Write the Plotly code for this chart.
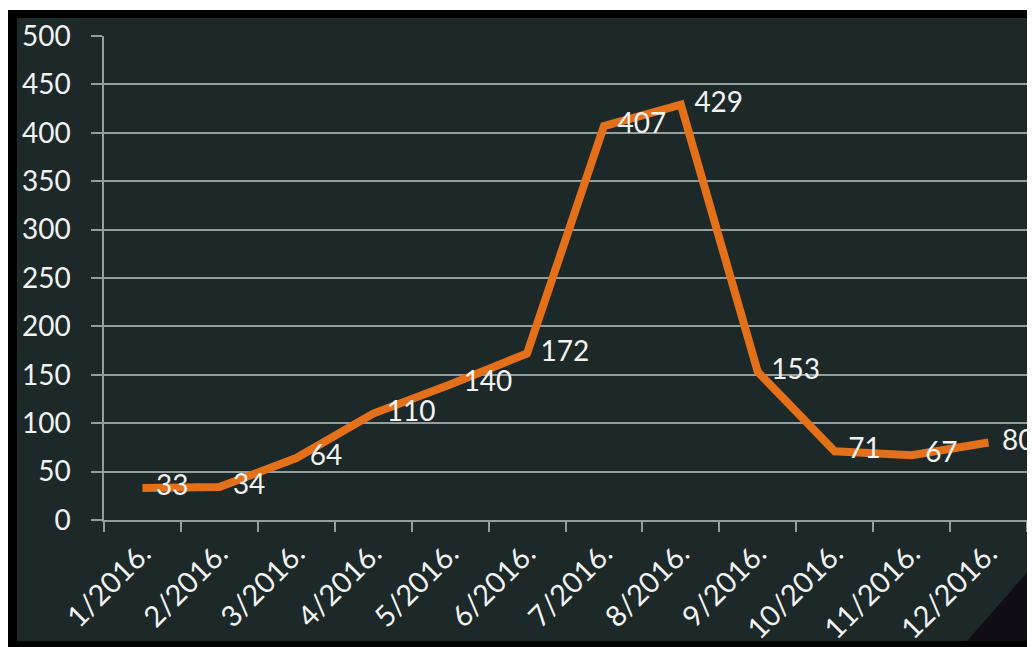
import plotly.graph_objects as go

months = ["1/2016.", "2/2016.", "3/2016.", "4/2016.", "5/2016.", "6/2016.",
          "7/2016.", "8/2016.", "9/2016.", "10/2016.", "11/2016.", "12/2016."]
values = [33, 34, 64, 110, 140, 172, 407, 429, 153, 71, 67, 80]
y_ticks = [0, 50, 100, 150, 200, 250, 300, 350, 400, 450, 500]

# the page body has an 8px margin, so the figure starts at page pixel (8, 8)
OFF = 8
W, H = 1035 - OFF, 647 - OFF
ML, MR, MT, MB = 104 - OFF, 8, 36 - OFF, 127
PW, PH = W - ML - MR, H - MT - MB

def px_x(p):  # page pixel -> paper
    return (p - OFF - ML) / PW

def px_y(p):
    return 1 - (p - OFF - MT) / PH

BOARD = "rgb(29,41,41)"
GRID = "rgba(170,178,178,0.85)"
TXT = "#f2f2f2"
FONT = "Lato"

fig = go.Figure()
fig.add_trace(go.Scatter(
    x=months, y=values, mode="lines+markers+text",
    line=dict(color="#E5701A", width=8),
    marker=dict(size=20, color="rgba(0,0,0,0)"),
    text=[str(v) for v in values], textposition="middle right",
    textfont=dict(family=FONT, size=28, color=TXT),
    cliponaxis=False, showlegend=False, hoverinfo="skip",
))

shapes = [
    dict(type="rect", xref="paper", yref="paper", layer="below",
         x0=px_x(8), x1=px_x(1045), y0=px_y(660), y1=px_y(10),
         fillcolor="black", line=dict(width=0)),
    dict(type="rect", xref="paper", yref="paper", layer="below",
         x0=px_x(17), x1=px_x(1045), y0=px_y(641), y1=px_y(18),
         fillcolor=BOARD, line=dict(width=0)),
    dict(type="path", xref="paper", yref="paper", layer="below",
         path=f"M {px_x(967)} {px_y(641)} L {px_x(1045)} {px_y(552)} L {px_x(1045)} {px_y(641)} Z",
         fillcolor="rgb(18,12,20)", line=dict(width=0)),
]

fig.update_layout(
    width=W, height=H,
    margin=dict(l=ML, r=MR, t=MT, b=MB, autoexpand=False),
    paper_bgcolor="white", plot_bgcolor="rgba(0,0,0,0)",
    shapes=shapes,
    font=dict(family=FONT, color=TXT),
)
fig.update_xaxes(
    type="category", tickangle=-45, tickson="boundaries", automargin=False,
    ticks="outside", ticklen=10, tickcolor=GRID, tickwidth=1.5,
    showline=True, linecolor=GRID, linewidth=1.5,
    showgrid=False, tickfont=dict(family=FONT, size=29, color=TXT),
    ticklabelstandoff=3,
    range=[-0.5, 11.5],
)
fig.update_yaxes(
    range=[0, 500], tickvals=y_ticks, showgrid=True, gridcolor=GRID, gridwidth=1.5,
    automargin=False,
    ticks="outside", ticklen=11, tickcolor=GRID, tickwidth=1.5,
    showline=True, linecolor=GRID, linewidth=1.5, zeroline=False,
    tickfont=dict(family=FONT, size=28, color=TXT), ticklabelstandoff=15,
)

fig.write_html("out.html")
